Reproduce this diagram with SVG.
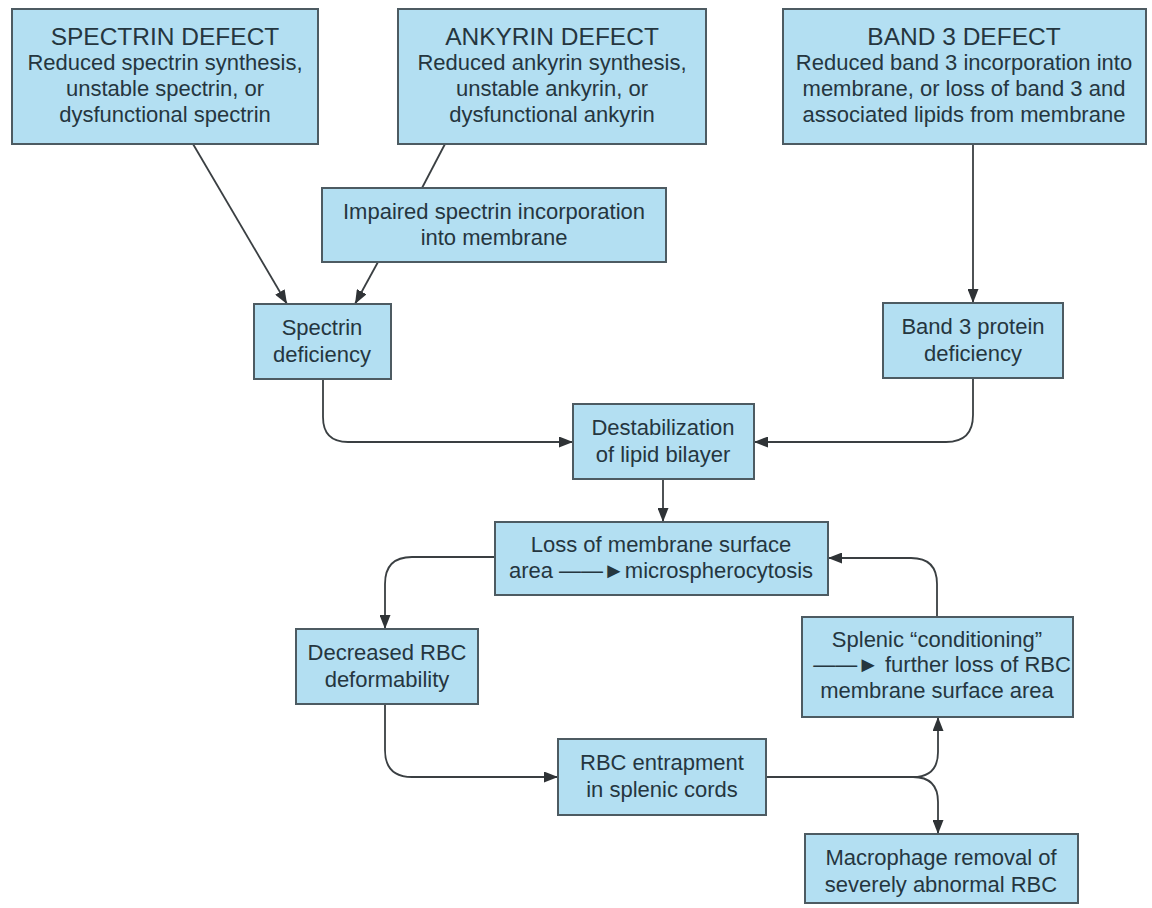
<svg xmlns="http://www.w3.org/2000/svg" width="1152" height="908" viewBox="0 0 1152 908">
<style>
.box{fill:#b3dff2;stroke:#4d5b62;stroke-width:2}
.t{font-family:"Liberation Sans",Arial,sans-serif;font-size:22px;fill:#25363f;text-anchor:middle}
.h{font-size:24.5px}
.c{fill:none;stroke:#3a3f42;stroke-width:1.8}
</style>
<defs>
<marker id="ah" markerUnits="userSpaceOnUse" markerWidth="14" markerHeight="11" refX="14" refY="5.5" orient="auto">
<path d="M0,0 L14,5.5 L0,11 z" fill="#2f3336"/>
</marker>
</defs>
<rect width="1152" height="908" fill="#ffffff"/>
<g id="connectors">
<path class="c" d="M193,144 L287,304" marker-end="url(#ah)"/>
<path class="c" d="M445,144 L422,188"/>
<path class="c" d="M378,262 L355,304" marker-end="url(#ah)"/>
<path class="c" d="M973,144 L973,303" marker-end="url(#ah)"/>
<path class="c" d="M323,379 L323,417 Q323,442 348,442 L573,442" marker-end="url(#ah)"/>
<path class="c" d="M973,378 L973,415 Q973,442 946,442 L754,442" marker-end="url(#ah)"/>
<path class="c" d="M663,479 L663,522" marker-end="url(#ah)"/>
<path class="c" d="M495,557 L412,557 Q385,557 385,584 L385,629" marker-end="url(#ah)"/>
<path class="c" d="M937,617 L937,584 Q937,558 911,558 L828,558" marker-end="url(#ah)"/>
<path class="c" d="M385,704 L385,750 Q385,777 412,777 L558,777" marker-end="url(#ah)"/>
<path class="c" d="M766,777 L913,777"/>
<path class="c" d="M913,777 Q938,777 938,752 L938,717" marker-end="url(#ah)"/>
<path class="c" d="M913,777 Q938,777 938,802 L938,834" marker-end="url(#ah)"/>
</g>
<g id="spectrin-defect">
<rect class="box" x="12" y="9" width="306" height="135"/>
<text class="t h" x="165" y="45">SPECTRIN DEFECT</text>
<text class="t" x="165" y="70">Reduced spectrin synthesis,</text>
<text class="t" x="165" y="96">unstable spectrin, or</text>
<text class="t" x="165" y="122">dysfunctional spectrin</text>
</g>
<g id="ankyrin-defect">
<rect class="box" x="398" y="9" width="308" height="135"/>
<text class="t h" x="552" y="45">ANKYRIN DEFECT</text>
<text class="t" x="552" y="70">Reduced ankyrin synthesis,</text>
<text class="t" x="552" y="96">unstable ankyrin, or</text>
<text class="t" x="552" y="122">dysfunctional ankyrin</text>
</g>
<g id="band3-defect">
<rect class="box" x="783" y="9" width="363" height="135"/>
<text class="t h" x="964" y="45">BAND 3 DEFECT</text>
<text class="t" x="964" y="70">Reduced band 3 incorporation into</text>
<text class="t" x="964" y="96">membrane, or loss of band 3 and</text>
<text class="t" x="964" y="122">associated lipids from membrane</text>
</g>
<g id="impaired">
<rect class="box" x="322" y="188" width="344" height="74"/>
<text class="t" x="494" y="219">Impaired spectrin incorporation</text>
<text class="t" x="494" y="245">into membrane</text>
</g>
<g id="spectrin-deficiency">
<rect class="box" x="254" y="304" width="137" height="75"/>
<text class="t" x="322" y="335">Spectrin</text>
<text class="t" x="322" y="362">deficiency</text>
</g>
<g id="band3-deficiency">
<rect class="box" x="883" y="303" width="180" height="75"/>
<text class="t" x="973" y="334">Band 3 protein</text>
<text class="t" x="973" y="361">deficiency</text>
</g>
<g id="destabilization">
<rect class="box" x="573" y="404" width="181" height="75"/>
<text class="t" x="663" y="435">Destabilization</text>
<text class="t" x="663" y="462">of lipid bilayer</text>
</g>
<g id="loss-surface">
<rect class="box" x="495" y="522" width="333" height="73"/>
<text class="t" x="661" y="552">Loss of membrane surface</text>
<text class="t" x="661" y="578">area ——►microspherocytosis</text>
</g>
<g id="decreased-deformability">
<rect class="box" x="296" y="629" width="182" height="75"/>
<text class="t" x="387" y="660">Decreased RBC</text>
<text class="t" x="387" y="687">deformability</text>
</g>
<g id="splenic-conditioning">
<rect class="box" x="802" y="617" width="271" height="100"/>
<text class="t" x="937" y="647">Splenic “conditioning”</text>
<text class="t" x="942" y="672">——► further loss of RBC</text>
<text class="t" x="937" y="698">membrane surface area</text>
</g>
<g id="rbc-entrapment">
<rect class="box" x="558" y="739" width="208" height="76"/>
<text class="t" x="662" y="770">RBC entrapment</text>
<text class="t" x="662" y="797">in splenic cords</text>
</g>
<g id="macrophage-removal">
<rect class="box" x="805" y="834" width="273" height="69"/>
<text class="t" x="941" y="865">Macrophage removal of</text>
<text class="t" x="941" y="892">severely abnormal RBC</text>
</g>
</svg>
